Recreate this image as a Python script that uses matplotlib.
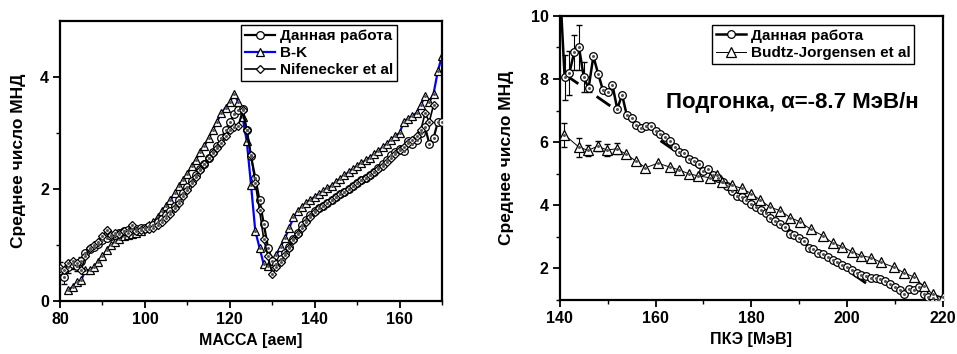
import matplotlib
matplotlib.use("Agg")
import matplotlib.pyplot as plt
import numpy as np

plt.rcParams["font.family"] = ["Liberation Sans", "DejaVu Sans"]
plt.rcParams["font.weight"] = "bold"

# ---- left panel: mean neutron number vs fragment mass ----
MASS_OUR = list(range(80, 171))
NU_OUR = [0.55, 0.42, 0.60, 0.65, 0.62, 0.72, 0.85, 0.92, 0.97, 1.02,
          1.08, 1.12, 1.15, 1.18, 1.22, 1.25, 1.27, 1.28, 1.28, 1.30,
          1.30, 1.33, 1.36, 1.40, 1.46, 1.53, 1.60, 1.70, 1.80, 1.92,
          2.03, 2.14, 2.25, 2.35, 2.45, 2.55, 2.65, 2.76, 2.90, 3.05,
          3.20, 3.33, 3.40, 3.43, 3.05, 2.58, 2.20, 1.80, 1.38, 0.95,
          0.72, 0.65, 0.75, 0.85, 0.97, 1.10, 1.22, 1.35, 1.45, 1.53,
          1.60, 1.65, 1.70, 1.75, 1.80, 1.85, 1.90, 1.95, 2.00, 2.05,
          2.10, 2.15, 2.20, 2.25, 2.30, 2.38, 2.45, 2.52, 2.60, 2.65,
          2.72, 2.67, 2.85, 2.80, 2.88, 3.00, 3.10, 2.81, 2.91, 3.19,
          3.20]
ERR_OUR = [0.15, 0.12, 0.10, 0.08, 0.08, 0.07]

MASS_BK = list(range(82, 171))
NU_BK = [0.20, 0.25, 0.33, 0.37, 0.55, 0.55, 0.60, 0.70, 0.80, 0.90,
         1.00, 1.05, 1.10, 1.15, 1.17, 1.20, 1.22, 1.25, 1.30, 1.35,
         1.40, 1.50, 1.60, 1.70, 1.80, 1.92, 2.05, 2.15, 2.27, 2.40,
         2.52, 2.65, 2.77, 2.90, 3.05, 3.20, 3.35, 3.45, 3.55, 3.70,
         3.55, 3.28, 2.85, 2.07, 1.25, 0.95, 0.65, 0.62, 0.72, 0.82,
         0.97, 1.12, 1.30, 1.49, 1.60, 1.68, 1.75, 1.80, 1.86, 1.91,
         1.96, 2.01, 2.06, 2.12, 2.18, 2.24, 2.30, 2.36, 2.41, 2.46,
         2.51, 2.56, 2.62, 2.68, 2.74, 2.80, 2.88, 2.94, 3.00, 3.20,
         3.25, 3.30, 3.36, 3.50, 3.65, 3.55, 3.70, 4.10, 4.38]

MASS_NIF = list(range(80, 169))
NU_NIF = [0.58, 0.55, 0.68, 0.72, 0.68, 0.55, 0.80, 0.95, 1.00, 1.05,
          1.15, 1.26, 1.18, 1.22, 1.20, 1.25, 1.22, 1.35, 1.25, 1.27,
          1.28, 1.28, 1.30, 1.35, 1.40, 1.48, 1.55, 1.65, 1.75, 1.87,
          1.98, 2.10, 2.22, 2.33, 2.44, 2.55, 2.64, 2.73, 2.82, 2.95,
          3.05, 3.10, 3.13, 3.40, 3.05, 2.60, 2.10, 1.62, 1.10, 0.80,
          0.48, 0.60, 0.70, 0.82, 0.95, 1.08, 1.20, 1.30, 1.40, 1.50,
          1.58, 1.65, 1.70, 1.75, 1.80, 1.85, 1.90, 1.95, 2.00, 2.05,
          2.10, 2.15, 2.20, 2.25, 2.30, 2.35, 2.40, 2.48, 2.55, 2.62,
          2.70, 2.75, 2.82, 2.88, 2.95, 3.05, 3.35, 3.20, 3.50]

# ---- right panel: mean neutron number vs total kinetic energy ----
TKE_OUR = list(range(140, 220))
NU_TKE = [11.0, 8.05, 8.20, 8.85, 9.00, 8.07, 7.70, 8.72, 8.17, 7.65,
          7.60, 7.80, 7.05, 7.50, 6.85, 6.75, 6.55, 6.45, 6.50, 6.50,
          6.35, 6.25, 6.15, 6.05, 5.85, 5.70, 5.65, 5.45, 5.40, 5.30,
          5.10, 5.15, 4.95, 4.85, 4.75, 4.60, 4.45, 4.30, 4.25, 4.15,
          4.05, 3.95, 3.85, 3.75, 3.60, 3.50, 3.40, 3.30, 3.10, 3.05,
          2.95, 2.85, 2.65, 2.60, 2.50, 2.45, 2.35, 2.25, 2.20, 2.10,
          2.05, 1.95, 1.85, 1.80, 1.75, 1.70, 1.70, 1.65, 1.60, 1.50,
          1.40, 1.30, 1.20, 1.35, 1.30, 1.40, 1.20, 1.10, 1.05, 1.00]
ERR_TKE = [0.0, 0.70, 0.70, 0.55, 0.70, 0.48, 0.10]

TKE_BJ = [140.9, 144.0, 145.9, 147.9, 149.9, 151.9, 153.9, 155.9, 157.9,
          160.5, 163.0, 164.9, 166.9, 168.9, 171.4, 172.8, 173.9, 175.9,
          178.0, 180.0, 181.9, 184.0, 186.1, 188.1, 190.1, 192.4, 195.0,
          197.0, 199.0, 201.0, 203.0, 205.0, 207.1, 209.9, 212.0, 214.1,
          216.0, 217.9, 220.0]
NU_BJ = [6.24, 5.84, 5.74, 5.87, 5.75, 5.79, 5.61, 5.40, 5.19, 5.33,
         5.21, 5.12, 5.00, 4.93, 4.87, 4.95, 4.74, 4.64, 4.53, 4.37,
         4.16, 3.93, 3.83, 3.61, 3.48, 3.24, 3.03, 2.80, 2.69, 2.53,
         2.40, 2.34, 2.19, 2.03, 1.85, 1.72, 1.43, 1.19, 1.08]
ERR_BJ = [0.38, 0.30, 0.18, 0.15, 0.18, 0.17]

FIT_TKE = [141.0, 205.7]
FIT_NU = [8.15, 1.35]


def dotted_marker(ax, x, y, marker, ms, **kw):
    # Origin-style open marker with a small dot in the middle
    line, = ax.plot(x, y, marker=marker, ms=ms, mfc="white", mec="black",
                    mew=0.9, **kw)
    ax.plot(x, y, ls="none", marker="o", ms=1.2, color="#555555",
            zorder=line.get_zorder() + 0.1)
    return line


def style_axes(ax):
    for s in ax.spines.values():
        s.set_linewidth(1.6)
    ax.tick_params(which="major", direction="out", length=5, width=1.3,
                   labelsize=11.5, pad=3)
    ax.tick_params(which="minor", direction="out", length=3, width=1.0)
    for lab in ax.get_xticklabels() + ax.get_yticklabels():
        lab.set_fontweight("bold")


fig = plt.figure(figsize=(9.57, 3.54), dpi=100)
ax1 = fig.add_axes([0.0627, 0.150, 0.3992, 0.791])
ax2 = fig.add_axes([0.585, 0.153, 0.400, 0.802])

# left
ax1.errorbar(MASS_OUR[:len(ERR_OUR)], NU_OUR[:len(ERR_OUR)], yerr=ERR_OUR,
             fmt="none", ecolor="black", elinewidth=0.8, capsize=2, zorder=2)
h1 = dotted_marker(ax1, MASS_OUR, NU_OUR, "o", 5.5, color="black", lw=1.6,
                   zorder=3)
h2 = dotted_marker(ax1, MASS_BK, NU_BK, "^", 6, color="#0000ff", lw=1.6,
                   zorder=2)
h3 = dotted_marker(ax1, MASS_NIF, NU_NIF, "D", 4.5, color="black", lw=1.2,
                   zorder=3)
ax1.set_xlim(80, 170)
ax1.set_ylim(0, 5)
ax1.set_xticks([80, 100, 120, 140, 160])
ax1.set_xticks(np.arange(90, 171, 20), minor=True)
ax1.set_yticks([0, 2, 4])
ax1.set_yticks([1, 3], minor=True)
ax1.set_xlabel("МАССА [аем]", fontsize=11.5, fontweight="bold", labelpad=4)
ax1.set_ylabel("Среднее число МНД", fontsize=12.5, fontweight="bold",
               labelpad=10)
style_axes(ax1)
leg1 = ax1.legend([h1, h2, h3], ["Данная работа", "B-K", "Nifenecker et al"],
                  loc="upper left", bbox_to_anchor=(0.474, 0.985),
                  prop={"size": 11, "weight": "bold"}, frameon=True,
                  fancybox=False, edgecolor="black", framealpha=1,
                  borderpad=0.25, labelspacing=0.2, handlelength=2.0,
                  handletextpad=0.3, borderaxespad=0)
leg1.get_frame().set_linewidth(1.0)

# right
ax2.plot(FIT_TKE, FIT_NU, color="black", lw=2.0, ls=(0, (6, 8)), zorder=1)
ax2.errorbar(TKE_OUR[:len(ERR_TKE)], NU_TKE[:len(ERR_TKE)], yerr=ERR_TKE,
             fmt="none", ecolor="black", elinewidth=0.8, capsize=2.5, zorder=2)
ax2.errorbar(TKE_BJ[:len(ERR_BJ)], NU_BJ[:len(ERR_BJ)], yerr=ERR_BJ,
             fmt="none", ecolor="black", elinewidth=0.8, capsize=2.5, zorder=2)
g1 = dotted_marker(ax2, TKE_OUR, NU_TKE, "o", 5.5, color="black", lw=1.8,
                   zorder=3)
g2 = dotted_marker(ax2, TKE_BJ, NU_BJ, "^", 6.5, color="black", lw=0.7,
                   zorder=3)
ax2.set_xlim(140, 220)
ax2.set_ylim(1, 10)
ax2.set_xticks([140, 160, 180, 200, 220])
ax2.set_xticks(np.arange(150, 220, 10), minor=True)
ax2.set_yticks([2, 4, 6, 8, 10])
ax2.set_yticks([1, 3, 5, 7, 9], minor=True)
ax2.set_xlabel("ПКЭ [МэВ]", fontsize=11.5, fontweight="bold", labelpad=4)
ax2.set_ylabel("Среднее число МНД", fontsize=12.5, fontweight="bold",
               labelpad=12)
style_axes(ax2)
ax2.text(188.6, 7.25, "Подгонка, α=-8.7 МэВ/н", fontsize=16,
         fontweight="bold", ha="center", va="center")
leg2 = ax2.legend([g1, g2], ["Данная работа", "Budtz-Jorgensen et al"],
                  loc="upper left", bbox_to_anchor=(0.397, 0.968),
                  prop={"size": 11, "weight": "bold"}, frameon=True,
                  fancybox=False, edgecolor="black", framealpha=1,
                  borderpad=0.25, labelspacing=0.2, handlelength=2.0,
                  handletextpad=0.3, borderaxespad=0)
leg2.get_frame().set_linewidth(1.0)

fig.savefig("out.png", dpi=100)
